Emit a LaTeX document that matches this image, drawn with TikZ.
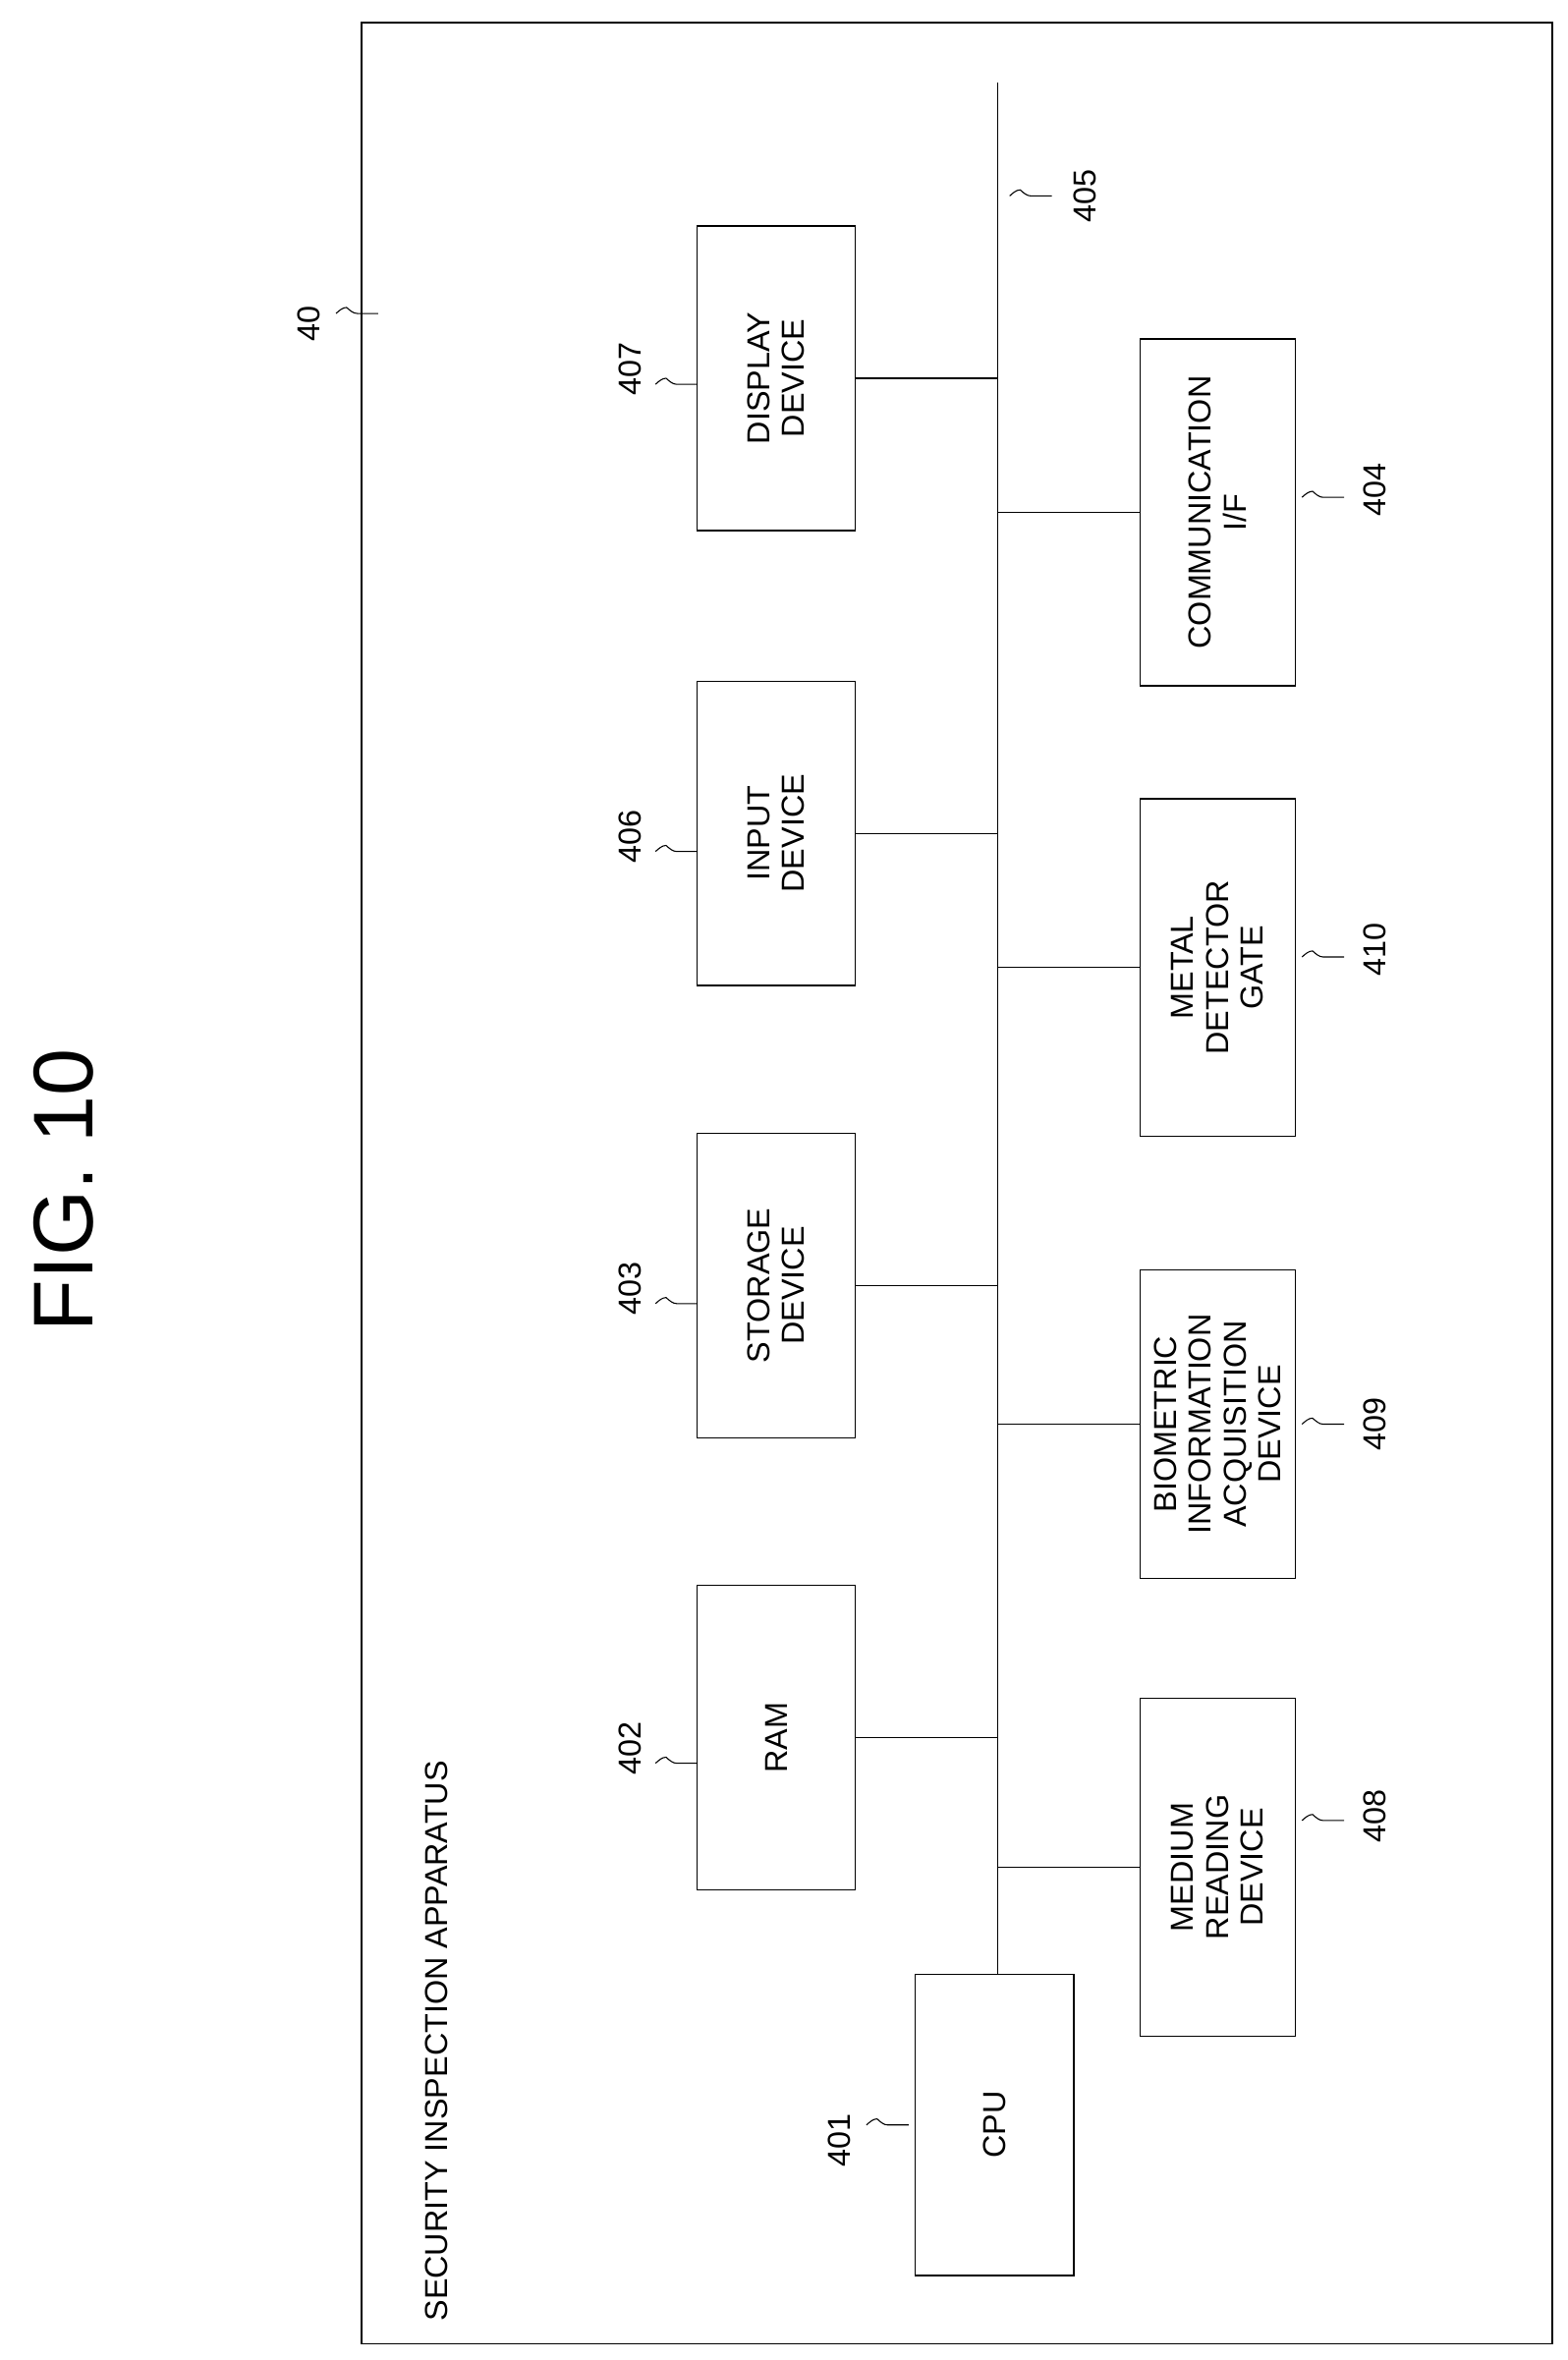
\documentclass[tikz,border=0pt]{standalone}
\usepackage{fontspec}
\setmainfont{Liberation Sans}
\usetikzlibrary{positioning,calc}

\begin{document}
\begin{tikzpicture}[
    x=0.05cm, y=-0.05cm,
    line width=1.2pt,
    box/.style={rectangle, draw, rotate=90, align=center, font=\fontsize{30}{33}\selectfont, inner sep=2pt},
    upper/.style={box, minimum width=10.1cm, minimum height=5.25cm},
    lower/.style={box, minimum width=11.2cm, minimum height=5.15cm},
    num/.style={rotate=90, font=\fontsize{30}{33}\selectfont},
    wire/.style={line width=1.2pt}
]
\useasboundingbox (0,0) rectangle (1040,1566);

% frame and titles
\draw (240,15) rectangle (1030,1555);
\node[rotate=90, font=\fontsize{80}{90}\selectfont] (fig) at (42,790) {FIG. 10};
\node[num, anchor=west] (title) at (290,1555-12) {SECURITY INSPECTION APPARATUS};

% upper row
\node[upper] (disp) at (515,251) {DISPLAY\\DEVICE};
\node[upper] (inp) at (515,553) {INPUT\\DEVICE};
\node[upper] (stor) at (515,853) {STORAGE\\DEVICE};
\node[upper] (ram) at (515,1153) {RAM};
\node[box, minimum width=10cm, minimum height=5.25cm] (cpu) at (660,1410) {CPU};

% lower row
\node[lower, minimum width=11.5cm] (comm) at (808,340) {COMMUNICATION\\I/F};
\node[lower] (metal) at (808,642) {METAL\\DETECTOR\\GATE};
\node[lower, minimum width=10.25cm] (bio) at (808,945) {BIOMETRIC\\INFORMATION\\ACQUISITION\\DEVICE};
\node[lower] (med) at (808,1239) {MEDIUM\\READING\\DEVICE};

% bus
\coordinate (bustop) at (662,55);
\draw[wire] (bustop) -- (bustop |- cpu.east);
\foreach \n in {disp,inp,stor,ram}
  \draw[wire] (\n.south) -- (\n.south -| bustop);
\foreach \n in {comm,metal,bio,med}
  \draw[wire] (\n.north -| bustop) -- (\n.north);

% reference numerals
\foreach \t/\x/\y/\sx/\sy in {40/205/215/237/208, 405/720/130/684/130,
    407/418/245/449/255, 406/418/555/449/565, 403/418/855/449/865,
    402/418/1160/449/1170, 401/557/1420/589/1410,
    404/912/325/878/330, 410/912/630/878/635, 409/912/945/878/945,
    408/912/1205/878/1208} {
  \node[num] (n\t) at (\x,\y) {\t};
  \draw[line width=1pt] (\sx,\sy) +(-14,0) sin +(-7,-4) cos +(0,0) sin +(7,4) cos +(14,0);
}
\end{tikzpicture}
\end{document}
